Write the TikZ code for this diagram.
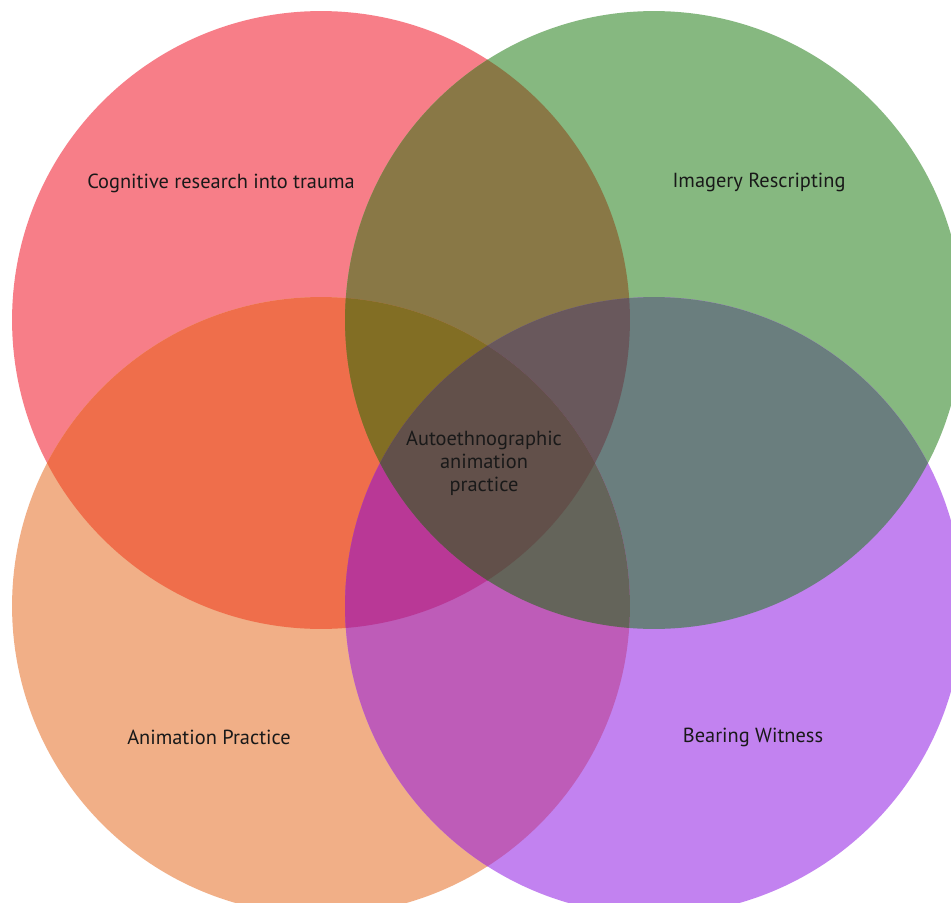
\documentclass[tikz,border=0pt]{standalone}
\usepackage{fontspec}
\setmainfont{PT Sans}
\usepackage{tikz}
\usetikzlibrary{positioning}
\definecolor{cogcolor}{HTML}{F77E88}
\definecolor{imgcolor}{HTML}{86B880}
\definecolor{anicolor}{HTML}{F1AF87}
\definecolor{bearcolor}{HTML}{C282F0}
\definecolor{cogimg}{HTML}{897846}
\definecolor{cogani}{HTML}{EF6E4B}
\definecolor{cogbear}{HTML}{A8508E}
\definecolor{imgani}{HTML}{8A7A4C}
\definecolor{imgbear}{HTML}{6A7E7E}
\definecolor{anibear}{HTML}{BE5CB8}
\definecolor{cogimgani}{HTML}{826E24}
\definecolor{cogimgbear}{HTML}{69585C}
\definecolor{coganibear}{HTML}{B93896}
\definecolor{imganibear}{HTML}{64645A}
\definecolor{allfour}{HTML}{62504A}
\def\rad{6.18cm}

\begin{document}
\begin{tikzpicture}[
    x=0.02cm, y=-0.02cm,
    setlabel/.style={font=\fontsize{11.6}{13.1}\selectfont, text=black!90, align=center}
]
\useasboundingbox[fill=white] (0,0) rectangle (951,903);

% Circle centres
\coordinate (cog) at (321,320);
\coordinate (img) at (654,320);
\coordinate (ani) at (321,606);
\coordinate (bear) at (654,606);

% Single sets
\fill[cogcolor] (cog) circle[radius=\rad];
\fill[imgcolor] (img) circle[radius=\rad];
\fill[anicolor] (ani) circle[radius=\rad];
\fill[bearcolor] (bear) circle[radius=\rad];

% Pairs
\begin{scope}
  \clip (cog) circle[radius=\rad];
  \fill[cogimg] (img) circle[radius=\rad];
\end{scope}
\begin{scope}
  \clip (cog) circle[radius=\rad];
  \fill[cogani] (ani) circle[radius=\rad];
\end{scope}
\begin{scope}
  \clip (cog) circle[radius=\rad];
  \fill[cogbear] (bear) circle[radius=\rad];
\end{scope}
\begin{scope}
  \clip (img) circle[radius=\rad];
  \fill[imgani] (ani) circle[radius=\rad];
\end{scope}
\begin{scope}
  \clip (img) circle[radius=\rad];
  \fill[imgbear] (bear) circle[radius=\rad];
\end{scope}
\begin{scope}
  \clip (ani) circle[radius=\rad];
  \fill[anibear] (bear) circle[radius=\rad];
\end{scope}

% Triples
\begin{scope}
  \clip (cog) circle[radius=\rad];
  \clip (img) circle[radius=\rad];
  \fill[cogimgani] (ani) circle[radius=\rad];
\end{scope}
\begin{scope}
  \clip (cog) circle[radius=\rad];
  \clip (img) circle[radius=\rad];
  \fill[cogimgbear] (bear) circle[radius=\rad];
\end{scope}
\begin{scope}
  \clip (cog) circle[radius=\rad];
  \clip (ani) circle[radius=\rad];
  \fill[coganibear] (bear) circle[radius=\rad];
\end{scope}
\begin{scope}
  \clip (img) circle[radius=\rad];
  \clip (ani) circle[radius=\rad];
  \fill[imganibear] (bear) circle[radius=\rad];
\end{scope}

% Centre
\begin{scope}
  \clip (cog) circle[radius=\rad];
  \clip (img) circle[radius=\rad];
  \clip (ani) circle[radius=\rad];
  \fill[allfour] (bear) circle[radius=\rad];
\end{scope}

% Labels
\node[setlabel] (coglabel) at (221,183) {Cognitive research into trauma};
\node[setlabel] (imglabel) at (759,182) {Imagery Rescripting};
\node[setlabel] (anilabel) at (209,737) {Animation Practice};
\node[setlabel] (bearlabel) at (753,737) {Bearing Witness};
\node[setlabel] (centrelabel) at (484,463) {Autoethnographic\\animation\\practice};

\end{tikzpicture}
\end{document}
